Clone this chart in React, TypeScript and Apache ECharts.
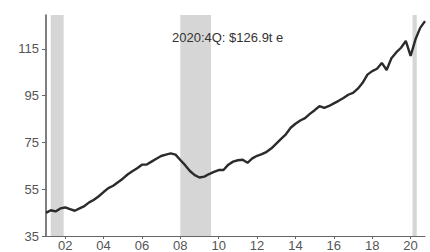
import React, { useEffect, useRef } from "react";
import * as echarts from "echarts";

// Quarterly values, 2001Q1 .. 2020Q4 ($ trillion)
const startYear = 2001;
const values: number[] = [
  44.9, 46, 45.5, 46.8, 47.2, 46.5, 45.8, 46.8, 47.8, 49.4,
  50.5, 52, 53.8, 55.5, 56.5, 58, 59.5, 61.3, 62.7, 64,
  65.5, 65.6, 66.8, 68, 69.2, 69.8, 70.3, 69.8, 67.5, 65.3,
  62.8, 61, 60, 60.4, 61.5, 62.4, 63.2, 63.2, 65.5, 66.8,
  67.4, 67.6, 66.3, 68.2, 69.3, 70, 71, 72.5, 74.5, 76.5,
  78.5, 81.3, 83, 84.4, 85.4, 87.2, 88.8, 90.5, 89.8, 90.6,
  91.7, 92.8, 94, 95.4, 96.2, 98, 100.5, 104, 105.5, 106.5,
  109, 106, 111, 113.5, 115.5, 118.4, 112, 119, 124, 126.9,
];

const recessions: [number, number][] = [
  [2001.25, 2001.92],
  [2008.0, 2009.6],
  [2020.1, 2020.32],
];

const xTicks = [2002, 2004, 2006, 2008, 2010, 2012, 2014, 2016, 2018, 2020];
const yTicks = [35, 55, 75, 95, 115];
const annotation = "2020:4Q: $126.9t e";

export default function App() {
  const ref = useRef<HTMLDivElement>(null);
  useEffect(() => {
    document.body.style.margin = "0";
    if (!ref.current) return;
    const chart = echarts.init(ref.current, undefined, { renderer: "svg" });
    const data = values.map((v, i) => [startYear + i / 4, v]);
    const font = "'Liberation Sans', Arial, sans-serif";
    chart.setOption({
      animation: false,
      backgroundColor: "#ffffff",
      grid: { left: 46, right: 5, top: 15, bottom: 15.5 },
      xAxis: {
        type: "value",
        min: 2001,
        max: 2020.75,
        splitLine: { show: false },
        axisLine: { show: true, lineStyle: { color: "#666", width: 1 } },
        axisTick: { show: true, length: 3, customValues: xTicks, lineStyle: { color: "#666" } },
        axisLabel: {
          customValues: xTicks,
          formatter: (v: number) => String(Math.round(v)).slice(2),
          color: "#555",
          fontSize: 13,
          fontFamily: font,
          margin: 3,
        },
      },
      yAxis: {
        type: "value",
        min: 35,
        max: 129.5,
        splitLine: { show: false },
        axisLine: { show: true, lineStyle: { color: "#555", width: 1.5 } },
        axisTick: { show: true, length: 4, customValues: yTicks, lineStyle: { color: "#666" } },
        axisLabel: {
          customValues: yTicks,
          color: "#555",
          fontSize: 13,
          fontFamily: font,
          margin: 7,
        },
      },
      graphic: [
        {
          type: "text",
          left: 172,
          top: 31,
          style: { text: annotation, fill: "#333", font: `13px ${font}` },
          z: 100,
        },
      ],
      series: [
        {
          type: "line",
          data,
          showSymbol: false,
          lineStyle: { color: "#2b2b2b", width: 2.4 },
          z: 10,
          markArea: {
            silent: true,
            itemStyle: { color: "#d6d6d6" },
            data: recessions.map(([a, b]) => [{ xAxis: a }, { xAxis: b }]),
          },
        },
      ],
    });
    return () => chart.dispose();
  }, []);
  return <div ref={ref} style={{ width: 430, height: 252 }} />;
}
